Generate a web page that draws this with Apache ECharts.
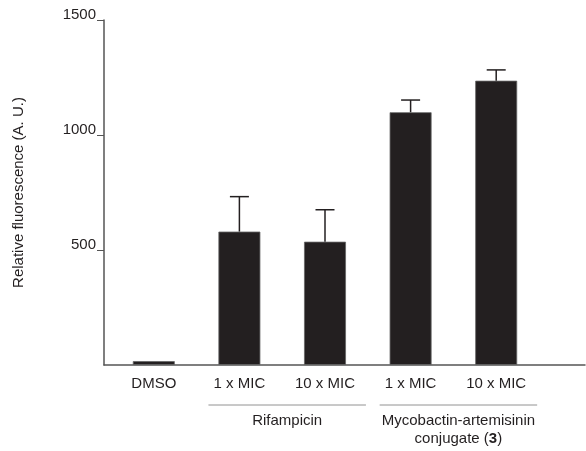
<!DOCTYPE html>
<html>
<head>
<meta charset="utf-8">
<script src="https://cdn.jsdelivr.net/npm/echarts@6/dist/echarts.min.js"></script>
<style>
  html, body { margin: 0; padding: 0; background: #fff; }
  #main { width: 586px; height: 451px; }
</style>
</head>
<body>
<div id="main"></div>
<script>
  // data
  var categories = ['DMSO', '1 x MIC', '10 x MIC', '1 x MIC', '10 x MIC'];
  var fluorescence = [17, 580, 536, 1099, 1236];
  var errUp = [0, 152, 139, 53, 47];
  var yTicks = [0, 500, 1000, 1500];
  var groups = [
    { name: 'Rifampicin', from: 1, to: 2 },
    { name: 'Mycobactin-artemisinin\n{b|conjugate (}{bb|3}{b|)}', from: 3, to: 4 }
  ];

  var ink = '#231f20';
  var chart = echarts.init(document.getElementById('main'));

  var option = {
    animation: false,
    grid: [
      { left: 111, right: 47, top: 20, bottom: 86 },
      { left: 104, right: 1, top: 20, bottom: 86 }
    ],
    xAxis: [
      {
        type: 'category',
        gridIndex: 0,
        data: categories,
        axisLine: { show: false },
        axisTick: { show: false },
        axisLabel: {
          color: ink,
          fontFamily: 'Liberation Sans, Arial',
          fontSize: 15,
          margin: 11,
          interval: 0
        }
      },
      {
        type: 'value',
        gridIndex: 1,
        min: 0,
        max: 1,
        axisLine: { show: true, lineStyle: { color: '#555', width: 1.5 } },
        axisTick: { show: false },
        axisLabel: { show: false },
        splitLine: { show: false }
      }
    ],
    yAxis: [
      {
        type: 'value',
        gridIndex: 0,
        min: yTicks[0],
        max: yTicks[yTicks.length - 1],
        interval: 500,
        offset: 7,
        name: 'Relative fluorescence (A. U.)',
        nameLocation: 'middle',
        nameGap: 78,
        nameTextStyle: { color: ink, fontFamily: 'Liberation Sans, Arial', fontSize: 15 },
        axisLine: { show: true, lineStyle: { color: '#555', width: 1.5 } },
        axisTick: { show: true, length: 7, lineStyle: { color: '#555', width: 1 } },
        axisLabel: {
          showMinLabel: false,
          color: ink,
          fontFamily: 'Liberation Sans, Arial',
          fontSize: 15,
          margin: 8,
          verticalAlign: 'bottom',
          padding: [0, 0, -2, 0],
          formatter: function (v) { return String(v); }
        },
        splitLine: { show: false }
      },
      { type: 'value', gridIndex: 1, show: false, min: 0, max: 1 }
    ],
    series: [
      {
        type: 'bar',
        xAxisIndex: 0,
        yAxisIndex: 0,
        data: fluorescence,
        barWidth: '49%',
        itemStyle: { color: ink, borderColor: '#666', borderWidth: 0.8 }
      },
      {
        type: 'custom',
        xAxisIndex: 0,
        yAxisIndex: 0,
        data: fluorescence.map(function (v, i) { return [i, v, v + errUp[i]]; }),
        renderItem: function (params, api) {
          if (api.value(2) === api.value(1)) return;
          var base = api.coord([api.value(0), api.value(1)]);
          var top = api.coord([api.value(0), api.value(2)]);
          var half = 9.5;
          var st = { stroke: ink, lineWidth: 1.5 };
          return {
            type: 'group',
            children: [
              { type: 'line', shape: { x1: base[0], y1: base[1], x2: top[0], y2: top[1] }, style: st },
              { type: 'line', shape: { x1: top[0] - half, y1: top[1], x2: top[0] + half, y2: top[1] }, style: st }
            ]
          };
        },
        z: 3
      }
    ]
  };
  chart.setOption(option);

  // group brackets under the category labels
  var graphics = [];
  groups.forEach(function (g) {
    var x0 = chart.convertToPixel({ xAxisIndex: 0 }, g.from) + 5;
    var x1 = chart.convertToPixel({ xAxisIndex: 0 }, g.to) + 5;
    var band = (x1 - x0);
    var left = x0 - band * 0.42, right = x1 + band * 0.42;
    var y0 = chart.convertToPixel({ yAxisIndex: 0 }, 0);
    graphics.push({
      type: 'line',
      shape: { x1: left, y1: y0 + 40, x2: right, y2: y0 + 40 },
      style: { stroke: '#777', lineWidth: 0.8 }
    });
    graphics.push({
      type: 'text',
      x: (x0 + x1) / 2,
      y: y0 + 47,
      style: {
        text: g.name,
        align: 'center',
        verticalAlign: 'top',
        fill: ink,
        font: '15px "Liberation Sans", Arial',
        lineHeight: 18,
        rich: {
          b: { fontSize: 15, fontFamily: 'Liberation Sans', fill: ink, lineHeight: 18 },
          bb: { fontSize: 15, fontFamily: 'Liberation Sans', fontWeight: 'bold', fill: ink, lineHeight: 18 }
        }
      }
    });
  });
  chart.setOption({ graphic: graphics });
</script>
</body>
</html>
